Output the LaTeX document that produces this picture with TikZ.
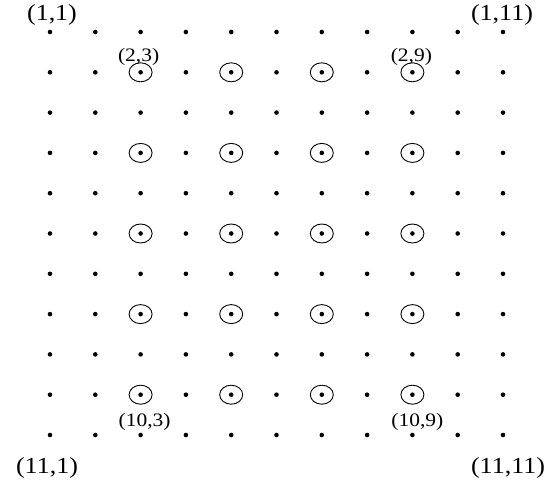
\documentclass[tikz,border=0pt]{standalone}
\usepackage{fontspec}
\setmainfont{Liberation Serif}
\newfontfamily\labfont[FakeStretch=1.13]{Liberation Serif}
\usepackage{tikz}
\usetikzlibrary{positioning,shapes.geometric}
\tikzset{
  dot/.style={circle, fill=black, inner sep=0pt, minimum size=4.6pt},
  ring/.style={ellipse, draw=black, line width=0.9pt, inner sep=0pt,
               minimum width=23pt, minimum height=19pt},
  biglab/.style={font=\labfont\fontsize{23}{23}\selectfont, inner sep=0pt},
  smalllab/.style={font=\labfont\fontsize{19}{19}\selectfont, inner sep=0pt},
}

\begin{document}
\begin{tikzpicture}[x=1pt, y=1pt]
  \useasboundingbox (0,0) rectangle (557,-485);
  % lattice points
  \foreach \r in {1,...,11}
    \foreach \c in {1,...,11}
      \node[dot] (d-\r-\c) at ({50+45.3*(\c-1)}, {-32-40.3*(\r-1)}) {};
  % marked points
  \foreach \r in {2,4,...,10}
    \foreach \c in {3,5,7,9}
      \node[ring] (o-\r-\c) at (d-\r-\c) {};
  % corner labels
  \node[biglab, above=4pt of d-1-1, xshift=2pt] (l11) {(1,1)};
  \node[biglab, above=4pt of d-1-11, xshift=-1pt] (l111) {(1,11)};
  \node[biglab, below=20pt of d-11-1, xshift=-3pt] (l1101) {(11,1)};
  \node[biglab, below=20pt of d-11-11, xshift=5pt] (l1111) {(11,11)};
  % ring labels
  \node[smalllab, above=4pt of d-2-3, xshift=-2pt] (l23) {(2,3)};
  \node[smalllab, above=4pt of d-2-9, xshift=-1pt] (l29) {(2,9)};
  \node[smalllab, below=16pt of d-10-3, xshift=4pt] (l103) {(10,3)};
  \node[smalllab, below=16pt of d-10-9, xshift=5pt] (l109) {(10,9)};
\end{tikzpicture}
\end{document}
